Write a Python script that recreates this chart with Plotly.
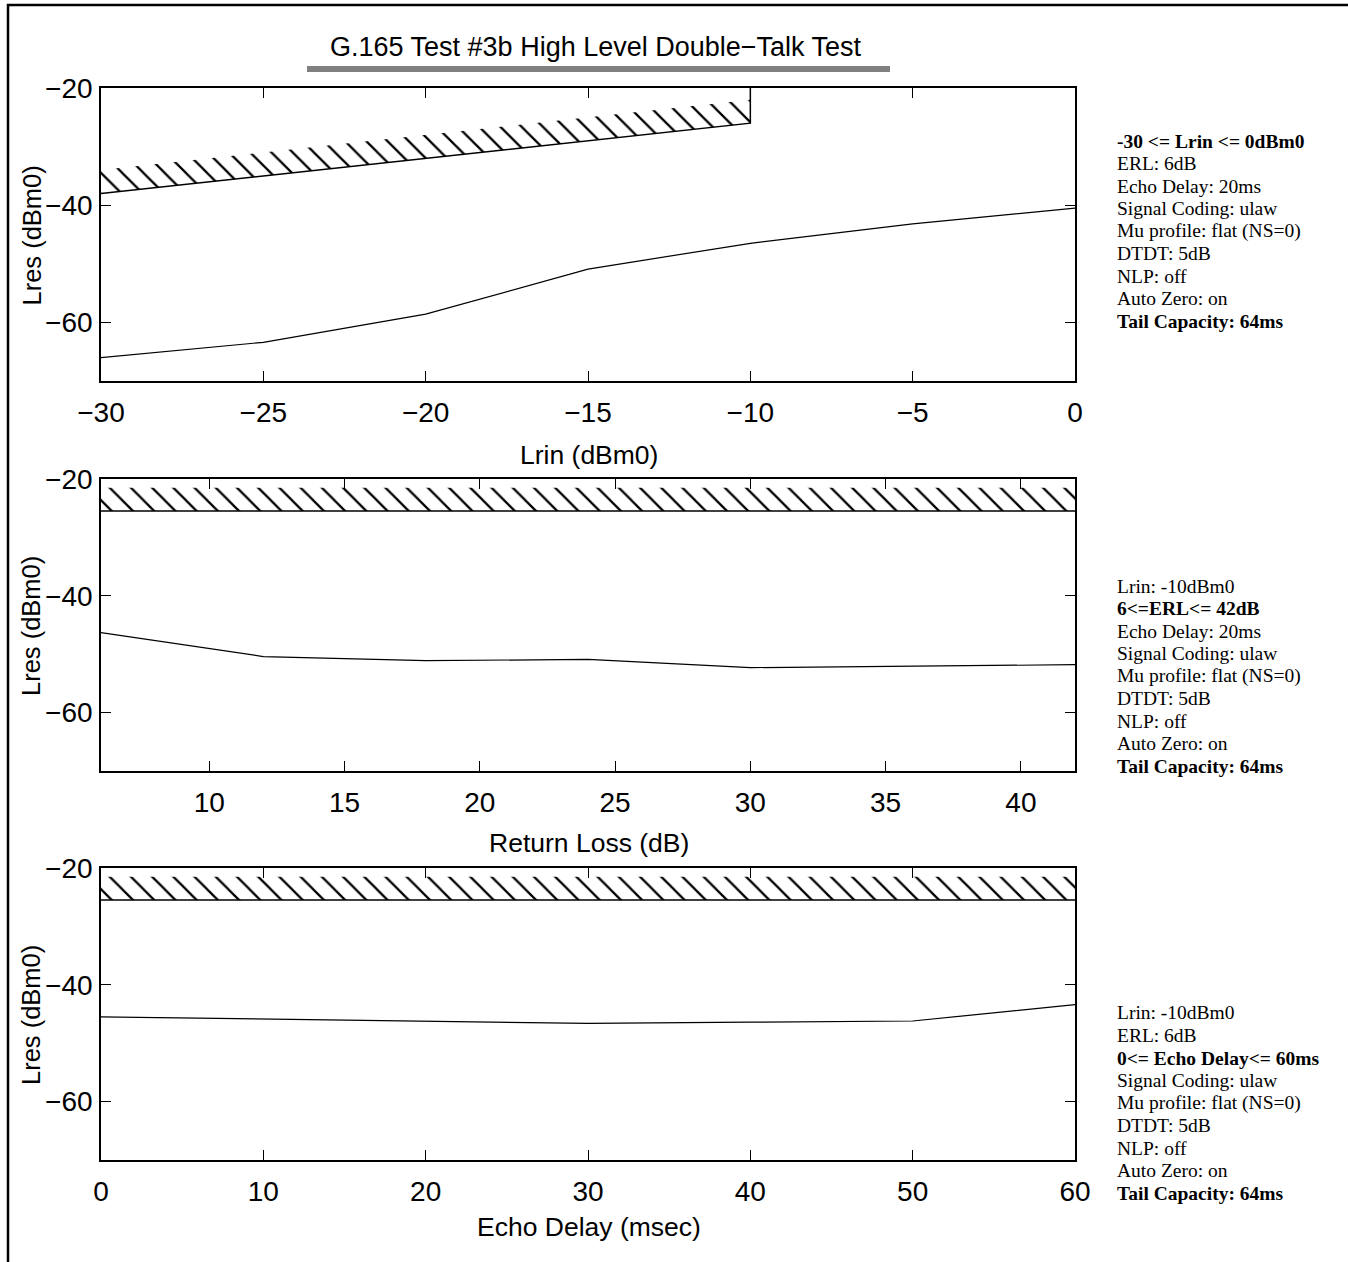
import plotly.graph_objects as go

# ---------------- data ----------------
LRIN = [-30, -25, -20, -15, -10, -5, 0]
LRES_LRIN = [-66.0, -63.4, -58.6, -50.9, -46.5, -43.2, -40.5]
LIMIT_LRIN_X = [-30, -25, -20, -15, -10, -10]
LIMIT_LRIN_Y = [-38.0, -35.0, -32.0, -29.0, -26.0, -20.0]

ERL = [6, 12, 18, 24, 30, 36, 42]
LRES_ERL = [-46.3, -50.4, -51.1, -50.9, -52.3, -52.0, -51.8]
LIMIT_ERL = [-25.5, -25.5]
LIMIT_ERL_X = [6, 42]

DELAY = [0, 10, 20, 30, 40, 50, 60]
LRES_DELAY = [-45.5, -45.9, -46.2, -46.6, -46.4, -46.2, -43.4]
LIMIT_DELAY = [-25.5, -25.5]
LIMIT_DELAY_X = [0, 60]

HATCH_DEPTH = 4.0  # dB height of the hatched band above a limit line

TITLE = "G.165 Test #3b High Level Double\u2212Talk Test"
XTITLES = ["Lrin (dBm0)", "Return Loss (dB)", "Echo Delay (msec)"]
YTITLE = "Lres (dBm0)"

INFO_TOP = ["<b>-30 &lt;= Lrin &lt;= 0dBm0</b>", "ERL: 6dB", "Echo Delay: 20ms",
            "Signal Coding: ulaw", "Mu profile: flat (NS=0)", "DTDT: 5dB",
            "NLP: off", "Auto Zero: on", "<b>Tail Capacity: 64ms</b>"]
INFO_MID = ["Lrin: -10dBm0", "<b>6&lt;=ERL&lt;= 42dB</b>", "Echo Delay: 20ms",
            "Signal Coding: ulaw", "Mu profile: flat (NS=0)", "DTDT: 5dB",
            "NLP: off", "Auto Zero: on", "<b>Tail Capacity: 64ms</b>"]
INFO_BOT = ["Lrin: -10dBm0", "ERL: 6dB", "<b>0&lt;= Echo Delay&lt;= 60ms</b>",
            "Signal Coding: ulaw", "Mu profile: flat (NS=0)", "DTDT: 5dB",
            "NLP: off", "Auto Zero: on", "<b>Tail Capacity: 64ms</b>"]

# ---------------- layout helpers ----------------
W, H = 1348, 1262
def px(x):
    return x / W
def py(y):
    return 1 - y / H

SANS = "Liberation Sans Narrow, Arial Narrow, Liberation Sans, Arial, sans-serif"
SERIF = "Liberation Serif, Times New Roman, serif"

PLOT_X = (101, 1075)
PLOTS_Y = [(88, 381), (479, 771), (868, 1160)]

fig = go.Figure()

def add_panel(i, x, y, lim_x, lim_y, hatch_n):
    xa = "x" if i == 0 else f"x{i+1}"
    ya = "y" if i == 0 else f"y{i+1}"
    hx = lim_x[:hatch_n]
    hy = lim_y[:hatch_n]
    fig.add_trace(go.Scatter(x=hx, y=hy, mode="lines", line=dict(width=0, color="black"),
                             xaxis=xa, yaxis=ya, showlegend=False, hoverinfo="skip"))
    fig.add_trace(go.Scatter(x=hx, y=[v + HATCH_DEPTH for v in hy], mode="lines",
                             line=dict(width=0, color="black"), fill="tonexty",
                             fillcolor="rgba(255,255,255,0)",
                             fillpattern=dict(shape="\\", size=15, solidity=0.15,
                                              fgcolor="black", fgopacity=1),
                             xaxis=xa, yaxis=ya, showlegend=False, hoverinfo="skip"))
    fig.add_trace(go.Scatter(x=lim_x, y=lim_y, mode="lines", line=dict(width=1.5, color="black"),
                             xaxis=xa, yaxis=ya, showlegend=False))
    fig.add_trace(go.Scatter(x=x, y=y, mode="lines", line=dict(width=1.2, color="black"),
                             xaxis=xa, yaxis=ya, showlegend=False))

add_panel(0, LRIN, LRES_LRIN, LIMIT_LRIN_X, LIMIT_LRIN_Y, 5)
add_panel(1, ERL, LRES_ERL, LIMIT_ERL_X, LIMIT_ERL, 2)
add_panel(2, DELAY, LRES_DELAY, LIMIT_DELAY_X, LIMIT_DELAY, 2)

axis_common = dict(showline=True, linecolor="black", linewidth=1.6, mirror="ticks",
                   ticks="inside", ticklen=10, tickwidth=1, tickcolor="black",
                   showgrid=False, zeroline=False, automargin=False,
                   tickfont=dict(family=SANS, size=28, color="black"))

xranges = [(-30, 0, 5), (6, 42, 5), (0, 60, 10)]
xtick0 = [-30, 10, 0]
layout_axes = {}
for i, ((x0, x1, dt), (ytop, ybot)) in enumerate(zip(xranges, PLOTS_Y)):
    sx = "" if i == 0 else str(i + 1)
    layout_axes[f"xaxis{sx}"] = dict(axis_common, domain=[px(PLOT_X[0]), px(PLOT_X[1])],
                                     range=[x0, x1], tick0=xtick0[i], dtick=dt,
                                     anchor=f"y{sx}", ticklabelstandoff=6)
    layout_axes[f"yaxis{sx}"] = dict(axis_common, domain=[py(ybot), py(ytop)],
                                     range=[-70, -20], tick0=-20, dtick=20,
                                     anchor=f"x{sx}", ticklabelstandoff=1)

annotations = []
annotations.append(dict(text=TITLE, x=px(596), y=py(47), xref="paper", yref="paper",
                        showarrow=False, xanchor="center", yanchor="middle",
                        font=dict(family=SANS, size=27, color="black")))
xt_y = [455, 843, 1227]
for t, yy in zip(XTITLES, xt_y):
    annotations.append(dict(text=t, x=px(589), y=py(yy), xref="paper", yref="paper",
                            showarrow=False, xanchor="center", yanchor="middle",
                            font=dict(family=SANS, size=26.5, color="black")))
for (ytop, ybot) in PLOTS_Y:
    annotations.append(dict(text=YTITLE, x=px(31), y=py((ytop + ybot) / 2 + 1), xref="paper",
                            yref="paper", showarrow=False, textangle=-90,
                            xanchor="center", yanchor="middle",
                            font=dict(family=SANS, size=25.5, color="black")))
LINE_STEP = 22.5
for lines, yfirst in zip([INFO_TOP, INFO_MID, INFO_BOT], [141, 586, 1013]):
    for k, line in enumerate(lines):
        annotations.append(dict(text=line, x=px(1115), y=py(yfirst + k * LINE_STEP),
                                xref="paper", yref="paper", showarrow=False,
                                xanchor="left", yanchor="middle", align="left",
                                font=dict(family=SERIF, size=19.5, color="black")))

shapes = [
    # outer frame (left and top edges; right/bottom lie outside the view)
    dict(type="line", xref="paper", yref="paper", x0=px(8), x1=px(8), y0=0, y1=py(4),
         line=dict(color="black", width=2.5)),
    dict(type="line", xref="paper", yref="paper", x0=px(7), x1=1, y0=py(5), y1=py(5),
         line=dict(color="black", width=2.5)),
    # gray bar under the title
    dict(type="rect", xref="paper", yref="paper", x0=px(307), x1=px(890), y0=py(72), y1=py(66),
         line=dict(width=0), fillcolor="#808080"),
]

fig.update_layout(width=W, height=H, margin=dict(l=0, r=0, t=0, b=0, pad=0, autoexpand=False),
                  paper_bgcolor="white", plot_bgcolor="white",
                  annotations=annotations, shapes=shapes, showlegend=False,
                  **layout_axes)

fig.write_html("out.html", config={"displayModeBar": False},
               post_script="document.body.style.margin='0';document.body.style.overflow='hidden';")
